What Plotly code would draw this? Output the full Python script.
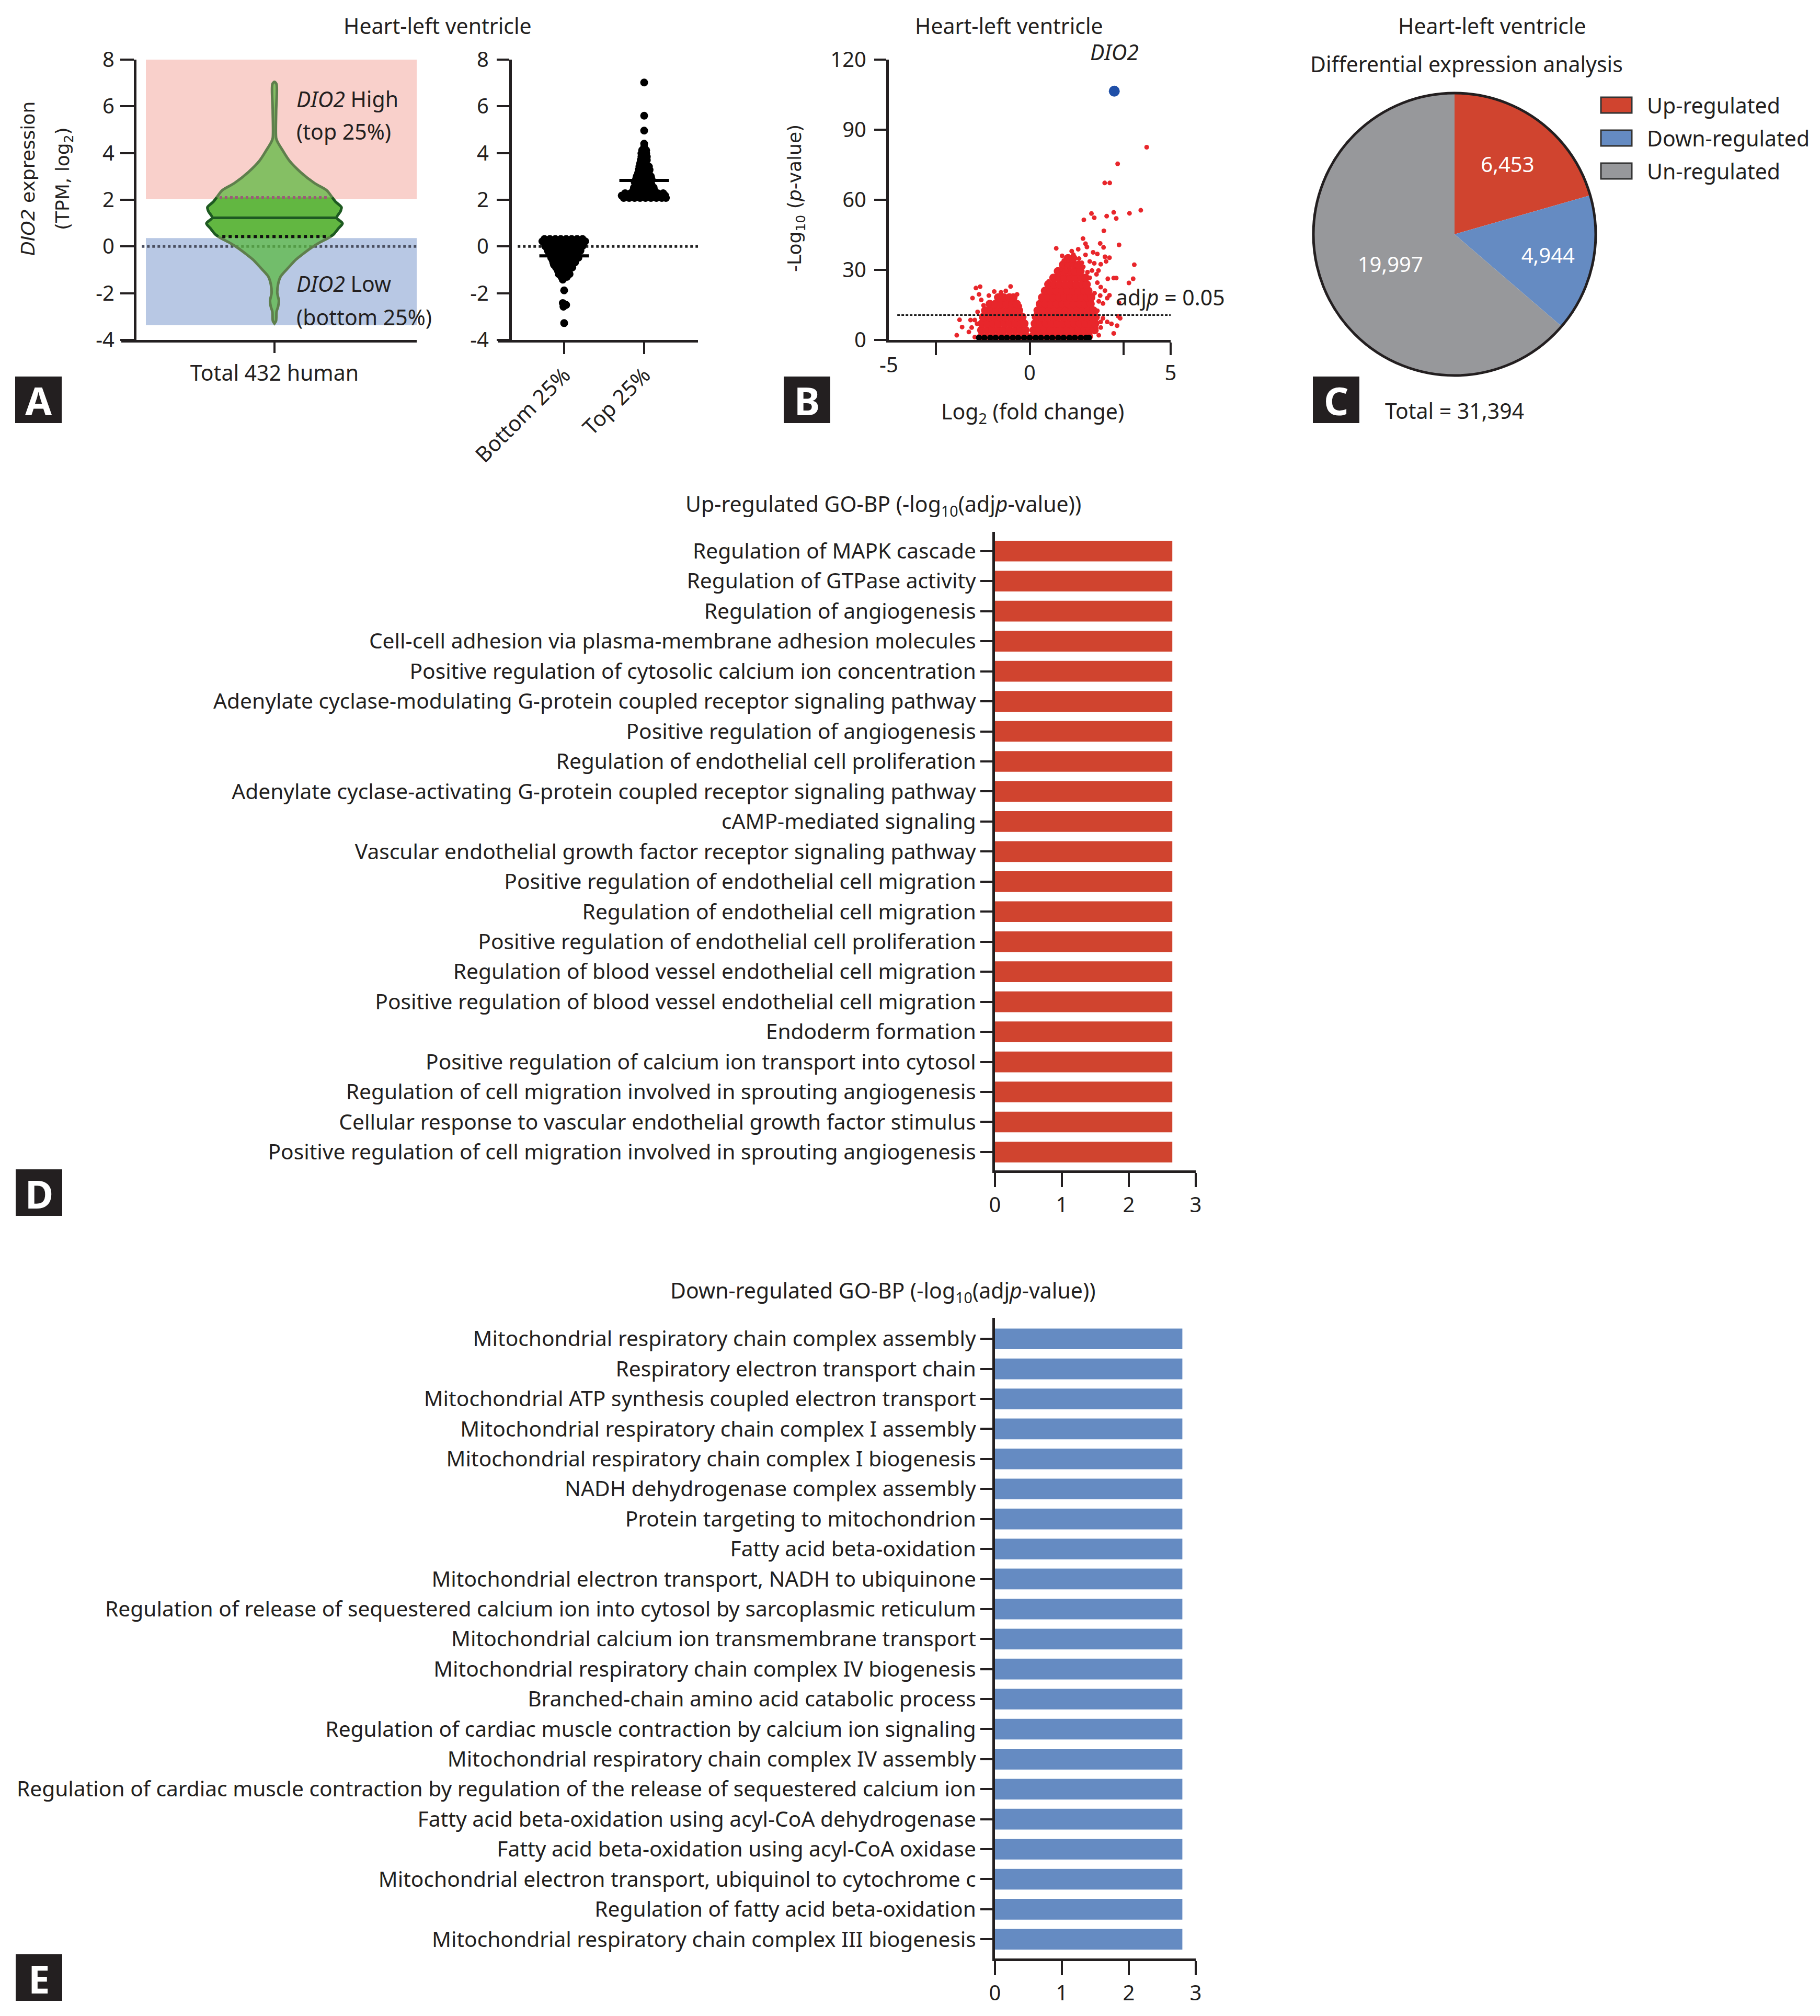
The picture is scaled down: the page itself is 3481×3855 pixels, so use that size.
import numpy as np
import plotly.graph_objects as go

W, H = 3481, 3855
FONT = "Noto Sans"
WIDE = "DejaVu Sans"
INK = "#231F20"
SWARM_SPREAD = 0.85


def fx(p):
    return p / W


def fy(p):
    return 1 - p / H


# ---------------- Panel A (violin + groups) ----------------
expr_ticks = [-4, -2, 0, 2, 4, 6, 8]
expr_tick_text = ["-4", "-2", "0", "2", "4", "6", "8"]
violin_y = [7.05, 6.95, 5.80, 4.64, 4.48, 4.14, 3.67, 3.18, 2.71, 2.40,
            2.10, 1.91, 1.68, 1.50, 1.23, 0.99, 0.77, 0.52, 0.36, 0.16,
            -0.08, -0.33, -0.55, -0.89, -1.29, -1.61, -2.00, -2.32, -2.57, -2.79,
            -3.19, -3.30]
violin_density = [0.0, 0.03, 0.025, 0.025, 0.045, 0.115, 0.22, 0.385, 0.59, 0.77,
                  0.85, 0.90, 0.985, 0.97, 0.915, 1.0, 0.94, 0.87, 0.79, 0.66,
                  0.53, 0.415, 0.32, 0.21, 0.09, 0.054, 0.042, 0.065, 0.054, 0.031,
                  0.023, 0.0]
violin_median = 1.23
violin_q1 = 0.43
violin_q3 = 2.10
high_band = [2.02, 8.0]
low_band = [-3.37, 0.36]

group_labels = ["Bottom 25%", "Top 25%"]
bottom_rows = [
    (0.32, [-0.29, -0.21, -0.13, -0.05, 0.03, 0.11, 0.19, 0.27]),
    (0.22, [-0.32, -0.24, -0.16, -0.08, 0.00, 0.08, 0.16, 0.24, 0.31]),
    (0.12, [-0.27, -0.19, -0.11, -0.03, 0.05, 0.13, 0.21, 0.28]),
    (0.02, [-0.28, -0.20, -0.12, -0.04, 0.04, 0.12, 0.20, 0.27]),
    (-0.08, [-0.25, -0.17, -0.09, -0.01, 0.07, 0.15, 0.23]),
    (-0.18, [-0.24, -0.16, -0.08, 0.00, 0.08, 0.16, 0.24]),
    (-0.28, [-0.22, -0.14, -0.06, 0.02, 0.10, 0.18]),
    (-0.38, [-0.20, -0.12, -0.04, 0.04, 0.12, 0.20]),
    (-0.48, [-0.19, -0.11, -0.03, 0.05, 0.13, 0.21]),
    (-0.58, [-0.17, -0.09, -0.01, 0.07, 0.15]),
    (-0.68, [-0.16, -0.08, 0.00, 0.08, 0.16]),
    (-0.78, [-0.15, -0.07, 0.01, 0.09]),
    (-0.90, [-0.12, -0.04, 0.04, 0.12]),
    (-1.05, [-0.09, -0.01, 0.07]),
    (-1.18, [-0.08, 0.00, 0.08]),
    (-1.30, [-0.04, 0.04]),
    (-1.42, [-0.02]),
    (-1.88, [0.00]),
    (-2.42, [-0.02]),
    (-2.50, [0.03]),
    (-2.58, [-0.01]),
    (-3.28, [0.00]),
]
top_rows = [
    (2.08, [-0.30, -0.22, -0.14, -0.06, 0.02, 0.10, 0.18, 0.26, 0.32]),
    (2.18, [-0.33, -0.25, -0.17, -0.09, -0.01, 0.07, 0.15, 0.23, 0.31]),
    (2.28, [-0.28, -0.20, -0.12, -0.04, 0.04, 0.12, 0.20, 0.28]),
    (2.40, [-0.16, -0.08, 0.00, 0.08, 0.15]),
    (2.52, [-0.15, -0.07, 0.01, 0.09, 0.14]),
    (2.64, [-0.13, -0.05, 0.03, 0.11]),
    (2.76, [-0.14, -0.06, 0.02, 0.10]),
    (2.88, [-0.12, -0.04, 0.04, 0.11]),
    (3.00, [-0.11, -0.03, 0.05, 0.10]),
    (3.14, [-0.09, -0.01, 0.07]),
    (3.28, [-0.08, 0.00, 0.08]),
    (3.42, [-0.07, 0.01, 0.07]),
    (3.56, [-0.06, 0.02]),
    (3.70, [-0.05, 0.04]),
    (3.84, [-0.04, 0.04]),
    (3.98, [-0.04, 0.03]),
    (4.12, [-0.03, 0.03]),
    (4.26, [0.00]),
    (4.40, [0.00]),
    (4.96, [0.00]),
    (5.60, [0.00]),
    (7.02, [0.00]),
]
bottom_median = -0.40
top_median = 2.83

# ---------------- Panel B (volcano) ----------------
volcano_ticks = [0, 30, 60, 90, 120]
volcano_xticks = [0, 5]
volcano_minor_xticks = [-3.33, 3.33]
volcano_core_rows = [
    (1.5, [-1.72, -1.52, -1.32, -1.12, -0.92, -0.72, -0.52, -0.32, -0.12,
           0.10, 0.30, 0.50, 0.70, 0.90, 1.10, 1.30, 1.50, 1.70, 1.90, 2.10]),
    (4.2, [-1.72, -1.52, -1.32, -1.12, -0.92, -0.72, -0.52, -0.32, -0.15,
           0.14, 0.34, 0.54, 0.74, 0.94, 1.14, 1.34, 1.54, 1.74, 1.94, 2.14, 2.30]),
    (7.0, [-1.70, -1.50, -1.30, -1.10, -0.90, -0.70, -0.50, -0.30, -0.19,
           0.18, 0.38, 0.58, 0.78, 0.98, 1.18, 1.38, 1.58, 1.78, 1.98, 2.18, 2.32]),
    (9.8, [-1.66, -1.46, -1.26, -1.06, -0.86, -0.66, -0.46, -0.26,
           0.22, 0.42, 0.62, 0.82, 1.02, 1.22, 1.42, 1.62, 1.82, 2.02, 2.22, 2.34]),
    (12.6, [-1.58, -1.38, -1.18, -0.98, -0.78, -0.58, -0.38,
            0.28, 0.48, 0.68, 0.88, 1.08, 1.28, 1.48, 1.68, 1.88, 2.08, 2.26]),
    (15.4, [-1.42, -1.22, -1.02, -0.82, -0.62, -0.46,
            0.36, 0.56, 0.76, 0.96, 1.16, 1.36, 1.56, 1.76, 1.96, 2.16]),
    (18.2, [-1.12, -0.92, -0.72, -0.58,
            0.44, 0.64, 0.84, 1.04, 1.24, 1.44, 1.64, 1.84, 2.04, 2.18]),
    (21.0, [0.54, 0.74, 0.94, 1.14, 1.34, 1.54, 1.74, 1.94, 2.08]),
    (23.8, [0.66, 0.86, 1.06, 1.26, 1.46, 1.66, 1.86, 2.02]),
    (26.6, [0.84, 1.04, 1.24, 1.44, 1.64, 1.84, 1.98]),
    (29.4, [1.00, 1.20, 1.40, 1.60, 1.80]),
    (32.2, [1.18, 1.38, 1.58, 1.74]),
    (35.0, [1.36, 1.54]),
]
volcano_edge_x = [4.15, 3.12, 2.66, 2.84, 3.94, 3.54, 2.98, 3.07, 2.73, 2.19,
                  2.29, 1.92, 2.63, 1.89, 1.98, 2.03, 0.94, 3.17, 2.50, 2.62,
                  1.49, 1.72, 2.25, 2.40, 2.67, 2.83, 1.75, 1.21, 1.98, 2.13,
                  2.29, 2.52, 2.71, 1.09, 1.33, 1.63, 1.90, 2.21, 2.44, 2.37,
                  2.13, 0.82, 0.67, 2.52, 2.67, 2.75, 2.60, 2.21, 2.33, 2.52,
                  2.13, 3.71, 3.67, 3.52, 2.77, 2.98, 3.07, 2.83, 3.17, 3.14,
                  3.21, 2.75, 2.90, 3.10, 2.98, 2.60, 2.52, 2.40, 2.50, 2.40,
                  2.30, 2.45, 2.35, 2.25, 2.45, 1.00, 1.15, 1.40, 1.55, 1.85,
                  2.05, 1.30,
                  -2.59, -2.49, -2.40, -2.16, -2.03, -1.95, -2.10, -1.91, -1.76, -2.06,
                  -1.87, -1.72, -1.64, -1.26, -1.02, -0.68, -0.45, -0.56, -1.18, -1.85,
                  -1.95, -1.80, -1.45, -0.85, -0.35, -0.25]
volcano_edge_y = [82.5, 75.4, 67.2, 67.2, 55.5, 54.2, 54.6, 52.0, 53.0, 54.1,
                  52.3, 51.4, 46.7, 43.4, 41.2, 39.8, 39.2, 40.7, 41.3, 39.6,
                  38.0, 38.8, 37.5, 36.8, 35.6, 35.2, 34.8, 34.0, 36.4, 33.6,
                  32.8, 32.4, 33.6, 30.1, 32.0, 32.0, 31.3, 29.7, 29.7, 28.1,
                  26.6, 26.6, 25.0, 22.6, 21.1, 17.9, 15.6, 14.0, 11.6, 7.7,
                  3.4, 32.2, 26.2, 24.4, 26.2, 26.5, 26.5, 19.1, 15.9, 10.1,
                  9.3, 7.7, 6.9, 6.1, 2.8, 9.3, 5.3, 12.5, 19.0, 24.5,
                  20.0, 16.5, 5.0, 8.5, 2.0, 28.0, 36.0, 35.5, 36.5, 33.0,
                  29.0, 29.5,
                  2.0, 8.6, 5.5, 3.4, 17.9, 8.5, 8.5, 22.2, 22.8, 5.3,
                  6.9, 17.1, 14.8, 20.7, 20.4, 22.9, 19.5, 17.9, 18.3, 12.0,
                  1.2, 19.5, 19.0, 21.0, 14.5, 10.5]
volcano_ns_rows = [
    (0.9, [-1.80, -1.61, -1.40, -1.21, -1.00, -0.81, -0.60, -0.41, -0.20, 0.00,
           0.21, 0.40, 0.61, 0.80, 1.01, 1.20, 1.41, 1.60, 1.81, 2.00, 2.10]),
    (-0.2, [-1.78, -1.59, -1.38, -1.19, -0.98, -0.79, -0.58, -0.39, -0.18, 0.02,
            0.19, 0.42, 0.59, 0.82, 0.99, 1.22, 1.39, 1.62, 1.79, 1.98, 2.08]),
    (-1.1, [-0.08, 0.00, 0.08]),
]
dio2_fc = 3.0
dio2_logp = 106.5
adjp_threshold = 10.65

# ---------------- Panel C (pie) ----------------
pie_labels = ["Up-regulated", "Down-regulated", "Un-regulated"]
pie_values = [6453, 4944, 19997]
pie_colors = ["#D0442F", "#658BC2", "#97989B"]
pie_total = 31394

# ---------------- Panels D / E (GO-BP bars) ----------------
up_terms = [
    "Regulation of MAPK cascade",
    "Regulation of GTPase activity",
    "Regulation of angiogenesis",
    "Cell-cell adhesion via plasma-membrane adhesion molecules",
    "Positive regulation of cytosolic calcium ion concentration",
    "Adenylate cyclase-modulating G-protein coupled receptor signaling pathway",
    "Positive regulation of angiogenesis",
    "Regulation of endothelial cell proliferation",
    "Adenylate cyclase-activating G-protein coupled receptor signaling pathway",
    "cAMP-mediated signaling",
    "Vascular endothelial growth factor receptor signaling pathway",
    "Positive regulation of endothelial cell migration",
    "Regulation of endothelial cell migration",
    "Positive regulation of endothelial cell proliferation",
    "Regulation of blood vessel endothelial cell migration",
    "Positive regulation of blood vessel endothelial cell migration",
    "Endoderm formation",
    "Positive regulation of calcium ion transport into cytosol",
    "Regulation of cell migration involved in sprouting angiogenesis",
    "Cellular response to vascular endothelial growth factor stimulus",
    "Positive regulation of cell migration involved in sprouting angiogenesis",
]
up_values = [2.65] * 21
down_terms = [
    "Mitochondrial respiratory chain complex assembly",
    "Respiratory electron transport chain",
    "Mitochondrial ATP synthesis coupled electron transport",
    "Mitochondrial respiratory chain complex I assembly",
    "Mitochondrial respiratory chain complex I biogenesis",
    "NADH dehydrogenase complex assembly",
    "Protein targeting to mitochondrion",
    "Fatty acid beta-oxidation",
    "Mitochondrial electron transport, NADH to ubiquinone",
    "Regulation of release of sequestered calcium ion into cytosol by sarcoplasmic reticulum",
    "Mitochondrial calcium ion transmembrane transport",
    "Mitochondrial respiratory chain complex IV biogenesis",
    "Branched-chain amino acid catabolic process",
    "Regulation of cardiac muscle contraction by calcium ion signaling",
    "Mitochondrial respiratory chain complex IV assembly",
    "Regulation of cardiac muscle contraction by regulation of the release of sequestered calcium ion",
    "Fatty acid beta-oxidation using acyl-CoA dehydrogenase",
    "Fatty acid beta-oxidation using acyl-CoA oxidase",
    "Mitochondrial electron transport, ubiquinol to cytochrome c",
    "Regulation of fatty acid beta-oxidation",
    "Mitochondrial respiratory chain complex III biogenesis",
]
down_values = [2.8] * 21
bar_ticks = [0, 1, 2, 3]


# ====================== build figure ======================
def flatten(rows, center=0.0, spread=1.0):
    xs, ys = [], []
    for yv, offs in rows:
        for o in offs:
            xs.append(center + o * spread)
            ys.append(yv)
    return xs, ys


fig = go.Figure()

# ---- violin (drawn as a filled density outline) ----
VMAX = 0.487
vy = np.array(violin_y)
vw = np.array(violin_density) * VMAX


def hw_at(v):
    return float(np.interp(v, vy[::-1], vw[::-1]))


fig.add_trace(go.Scatter(
    x=np.concatenate([vw, -vw[::-1]]), y=np.concatenate([vy, vy[::-1]]),
    mode="lines", fill="toself", fillcolor="rgba(88,185,60,0.72)",
    line=dict(color="#5E7F4C", width=5, shape="spline", smoothing=0.8),
    xaxis="x", yaxis="y", hoverinfo="skip"))

mask = (vy < violin_q3) & (vy > violin_q1)
iqr_y = np.concatenate([[violin_q3], vy[mask], [violin_q1]])
iqr_w = np.concatenate([[hw_at(violin_q3)], vw[mask], [hw_at(violin_q1)]])
fig.add_trace(go.Scatter(
    x=np.concatenate([iqr_w, -iqr_w[::-1]]), y=np.concatenate([iqr_y, iqr_y[::-1]]),
    mode="lines", fill="toself", fillcolor="rgba(70,165,25,0.55)",
    line=dict(width=0, shape="spline", smoothing=0.8),
    xaxis="x", yaxis="y", hoverinfo="skip"))
fig.add_trace(go.Scatter(
    x=np.concatenate([iqr_w, [None], -iqr_w]), y=np.concatenate([iqr_y, [None], iqr_y]),
    mode="lines", line=dict(color="#1E5A22", width=5, shape="spline", smoothing=0.8),
    connectgaps=False, xaxis="x", yaxis="y", hoverinfo="skip"))
m_hw = hw_at(violin_median)
fig.add_trace(go.Scatter(x=[-m_hw, m_hw], y=[violin_median] * 2, mode="lines",
                         line=dict(color="#1E5A22", width=5), xaxis="x", yaxis="y"))
q3_hw = hw_at(violin_q3) * 0.95
fig.add_trace(go.Scatter(x=[-q3_hw, q3_hw], y=[violin_q3] * 2, mode="lines",
                         line=dict(color="#9B5A7A", width=5, dash="dot"), xaxis="x", yaxis="y"))
q1_hw = hw_at(violin_q1) * 0.93
fig.add_trace(go.Scatter(x=[-q1_hw, q1_hw], y=[violin_q1] * 2, mode="lines",
                         line=dict(color="#111111", width=6, dash="dot"), xaxis="x", yaxis="y"))

# ---- swarm plot of groups ----
bx, by = flatten(bottom_rows, 0.0, SWARM_SPREAD)
tx, ty = flatten(top_rows, 1.0, SWARM_SPREAD)
fig.add_trace(go.Scatter(x=bx + tx, y=by + ty, mode="markers",
                         marker=dict(color="#000000", size=15, line=dict(width=0)),
                         xaxis="x2", yaxis="y2", cliponaxis=False))
for c, med in [(0.0, bottom_median), (1.0, top_median)]:
    fig.add_trace(go.Scatter(x=[c - 0.31, c + 0.31], y=[med, med], mode="lines",
                             line=dict(color="#000000", width=6), xaxis="x2", yaxis="y2"))

# ---- volcano ----
cx, cy = flatten(volcano_core_rows)
fig.add_trace(go.Scatter(x=cx, y=cy, mode="markers",
                         marker=dict(color="#E8262B", size=16, line=dict(width=0)),
                         xaxis="x3", yaxis="y3", cliponaxis=False))
fig.add_trace(go.Scatter(x=volcano_edge_x, y=volcano_edge_y, mode="markers",
                         marker=dict(color="#E8262B", size=9, line=dict(width=0)),
                         xaxis="x3", yaxis="y3", cliponaxis=False))
nx, ny = flatten(volcano_ns_rows)
fig.add_trace(go.Scatter(x=nx, y=ny, mode="markers",
                         marker=dict(color="#000000", size=12, line=dict(width=0)),
                         xaxis="x3", yaxis="y3", cliponaxis=False))
fig.add_trace(go.Scatter(x=[dio2_fc], y=[dio2_logp], mode="markers",
                         marker=dict(color="#1F4FA8", size=21, line=dict(width=0)),
                         xaxis="x3", yaxis="y3", cliponaxis=False))

# ---- pie ----
fig.add_trace(go.Pie(
    labels=pie_labels, values=pie_values, sort=False, direction="clockwise", rotation=0,
    marker=dict(colors=pie_colors, line=dict(width=0)),
    texttemplate="%{value:,}", textposition="inside", insidetextorientation="horizontal",
    textfont=dict(family=FONT, size=40, color="white"),
    domain=dict(x=[fx(2512), fx(3052)], y=[fy(718), fy(178)]),
    showlegend=False, hoverinfo="skip"))

# ---- GO bars ----
fig.add_trace(go.Bar(x=up_values, y=up_terms, orientation="h",
                     marker=dict(color="#D0442F", line=dict(width=0)),
                     xaxis="x4", yaxis="y4"))
fig.add_trace(go.Bar(x=down_values, y=down_terms, orientation="h",
                     marker=dict(color="#658BC2", line=dict(width=0)),
                     xaxis="x5", yaxis="y5"))

# ====================== axes ======================
base = dict(showline=True, linecolor=INK, linewidth=5, ticks="outside", tickcolor=INK,
            tickwidth=4, showgrid=False, zeroline=False, automargin=False,
            tickfont=dict(family=FONT, size=40, color=INK))
term_font = dict(family=FONT, size=40.7, color=INK)

fig.update_layout(
    template="none",
    xaxis=dict(base, domain=[fx(232), fx(797)], range=[-1.097, 1.019], anchor="y",
               tickvals=[0], ticktext=["Total 432 human"], ticklen=20, ticklabelstandoff=4,
               tickfont=dict(family=FONT, size=41, color=INK)),
    yaxis=dict(base, domain=[fy(650), fy(114)], range=[-4, 8], anchor="free",
               position=fx(258), tickvals=expr_ticks, ticktext=expr_tick_text,
               ticklen=26, ticklabelstandoff=3),
    xaxis2=dict(base, domain=[fx(952), fx(1335)], range=[-0.83, 1.673], anchor="y2",
                tickvals=[0, 1], ticktext=group_labels, tickangle=-45, ticklen=22,
                ticklabelstandoff=0, tickfont=dict(family=FONT, size=41, color=INK)),
    yaxis2=dict(base, domain=[fy(650), fy(114)], range=[-4, 8], anchor="free",
                position=fx(976), tickvals=expr_ticks, ticktext=expr_tick_text,
                ticklen=24, ticklabelstandoff=7),
    xaxis3=dict(base, domain=[fx(1700), fx(2239)], range=[-5, 5], anchor="y3",
                tickvals=volcano_xticks, ticklen=24, ticklabelstandoff=0,
                minor=dict(tickvals=volcano_minor_xticks, ticks="outside", ticklen=24,
                           tickwidth=4, tickcolor=INK, showgrid=False)),
    yaxis3=dict(base, domain=[fy(650), fy(114)], range=[0, 120], anchor="x3",
                tickvals=volcano_ticks, ticklen=23, ticklabelstandoff=7),
    xaxis4=dict(base, domain=[fx(1903), fx(2287)], range=[0, 3], anchor="y4",
                tickvals=bar_ticks, ticklen=27, ticklabelstandoff=0),
    yaxis4=dict(base, domain=[fy(2238), fy(1017)], range=[20.61, -0.64], anchor="x4",
                type="category", ticklen=23, ticklabelstandoff=0, tickfont=term_font),
    xaxis5=dict(base, domain=[fx(1903), fx(2287)], range=[0, 3], anchor="y5",
                tickvals=bar_ticks, ticklen=27, ticklabelstandoff=0),
    yaxis5=dict(base, domain=[fy(3745), fy(2520)], range=[20.64, -0.70], anchor="x5",
                type="category", ticklen=23, ticklabelstandoff=0, tickfont=term_font),
    bargap=0.31,
)

# ====================== shapes ======================
shapes = [
    dict(type="rect", xref="x", yref="y", x0=-0.921, x1=1.019, y0=high_band[0], y1=high_band[1],
         fillcolor="#F9D0CB", line=dict(width=0), layer="below"),
    dict(type="rect", xref="x", yref="y", x0=-0.921, x1=1.019, y0=low_band[0], y1=low_band[1],
         fillcolor="#B8C8E4", line=dict(width=0), layer="below"),
    dict(type="line", xref="x", yref="y", x0=-0.95, x1=1.019, y0=0, y1=0,
         line=dict(color="#4A4F60", width=5, dash="dot"), layer="below"),
    dict(type="line", xref="x2", yref="y2", x0=-0.58, x1=1.673, y0=0, y1=0,
         line=dict(color="#222222", width=5, dash="dot"), layer="below"),
    dict(type="line", xref="x3", yref="y3", x0=-4.7, x1=5, y0=adjp_threshold, y1=adjp_threshold,
         line=dict(color="#1A1A1A", width=3, dash="5px,3px"), layer="above"),
    dict(type="circle", xref="paper", yref="paper", x0=fx(2512), x1=fx(3052),
         y0=fy(718), y1=fy(178), line=dict(color=INK, width=5), layer="above"),
]
for i, col in enumerate(pie_colors):
    yc = 201 + 63 * i
    shapes.append(dict(type="rect", xref="paper", yref="paper", x0=fx(3062), x1=fx(3121),
                       y0=fy(yc + 15), y1=fy(yc - 15), fillcolor=col,
                       line=dict(color="#333333", width=3)))
panel_boxes = [("A", 29, 720), ("B", 1499, 720), ("C", 2511, 720), ("D", 30, 2236), ("E", 30, 3737)]
for letter, x0, y0 in panel_boxes:
    shapes.append(dict(type="rect", xref="paper", yref="paper", x0=fx(x0), x1=fx(x0 + 89),
                       y0=fy(y0 + 89), y1=fy(y0), fillcolor=INK, line=dict(width=0)))
fig.update_layout(shapes=shapes)


# ====================== annotations ======================
def ann(text, x, y, size=41, xanchor="center", yanchor="middle", color=INK, family=FONT,
        xref="paper", yref="paper", textangle=0):
    return dict(text=text, x=x, y=y, xref=xref, yref=yref, xanchor=xanchor, yanchor=yanchor,
                showarrow=False, textangle=textangle,
                font=dict(family=family, size=size, color=color))


annotations = [
    ann("Heart-left ventricle", fx(837), fy(49)),
    ann("Heart-left ventricle", fx(1930), fy(49)),
    ann("Heart-left ventricle", fx(2854), fy(49)),
    ann("Differential expression analysis", fx(2805), fy(122)),
    ann("<i>DIO2</i> High", 0.15, 6.32, xref="x", yref="y", xanchor="left"),
    ann("(top 25%)", 0.15, 4.93, xref="x", yref="y", xanchor="left"),
    ann("<i>DIO2</i> Low", 0.15, -1.58, xref="x", yref="y", xanchor="left"),
    ann("(bottom 25%)", 0.15, -3.02, xref="x", yref="y", xanchor="left"),
    ann("<i>DIO2</i> expression", fx(53), fy(342), size=36, family=WIDE, textangle=-90),
    ann("(TPM, log<sub>2</sub>)", fx(122), fy(342), size=36, family=WIDE, textangle=-90),
    ann("-Log<sub>10</sub> (<i>p</i>-value)", fx(1523), fy(379), size=36, family=WIDE, textangle=-90),
    ann("<i>DIO2</i>", dio2_fc, fy(99), xref="x3"),
    ann("adj<i>p</i> = 0.05", 3.02, 18.3, xref="x3", yref="y3", xanchor="left"),
    ann("-5", -5, fy(696), xref="x3", size=40),
    ann("Log<sub>2</sub> (fold change)", fx(1975), fy(789)),
    ann("Total = %s" % format(pie_total, ","), fx(2782), fy(785)),
    ann("Up-regulated GO-BP (-log<sub>10</sub>(adj<i>p</i>-value))", fx(1689), fy(965)),
    ann("Down-regulated GO-BP (-log<sub>10</sub>(adj<i>p</i>-value))", fx(1689), fy(2469)),
]
for i, lab in enumerate(pie_labels):
    annotations.append(ann(lab, fx(3148), fy(201 + 63 * i), xanchor="left"))
for letter, x0, y0 in panel_boxes:
    annotations.append(dict(text="<b>%s</b>" % letter, x=fx(x0 + 44.5), y=fy(y0 + 46),
                            xref="paper", yref="paper", xanchor="center", yanchor="middle",
                            showarrow=False, font=dict(family=FONT, size=74, color="white")))
fig.update_layout(annotations=annotations)

fig.update_layout(
    width=W, height=H, autosize=False,
    margin=dict(l=0, r=0, t=0, b=0, pad=0),
    paper_bgcolor="white", plot_bgcolor="rgba(0,0,0,0)",
    showlegend=False, hovermode=False,
    font=dict(family=FONT, color=INK, size=40),
)

fig.write_html("out.html", config={"displayModeBar": False},
               post_script="document.body.style.margin='0px';")
